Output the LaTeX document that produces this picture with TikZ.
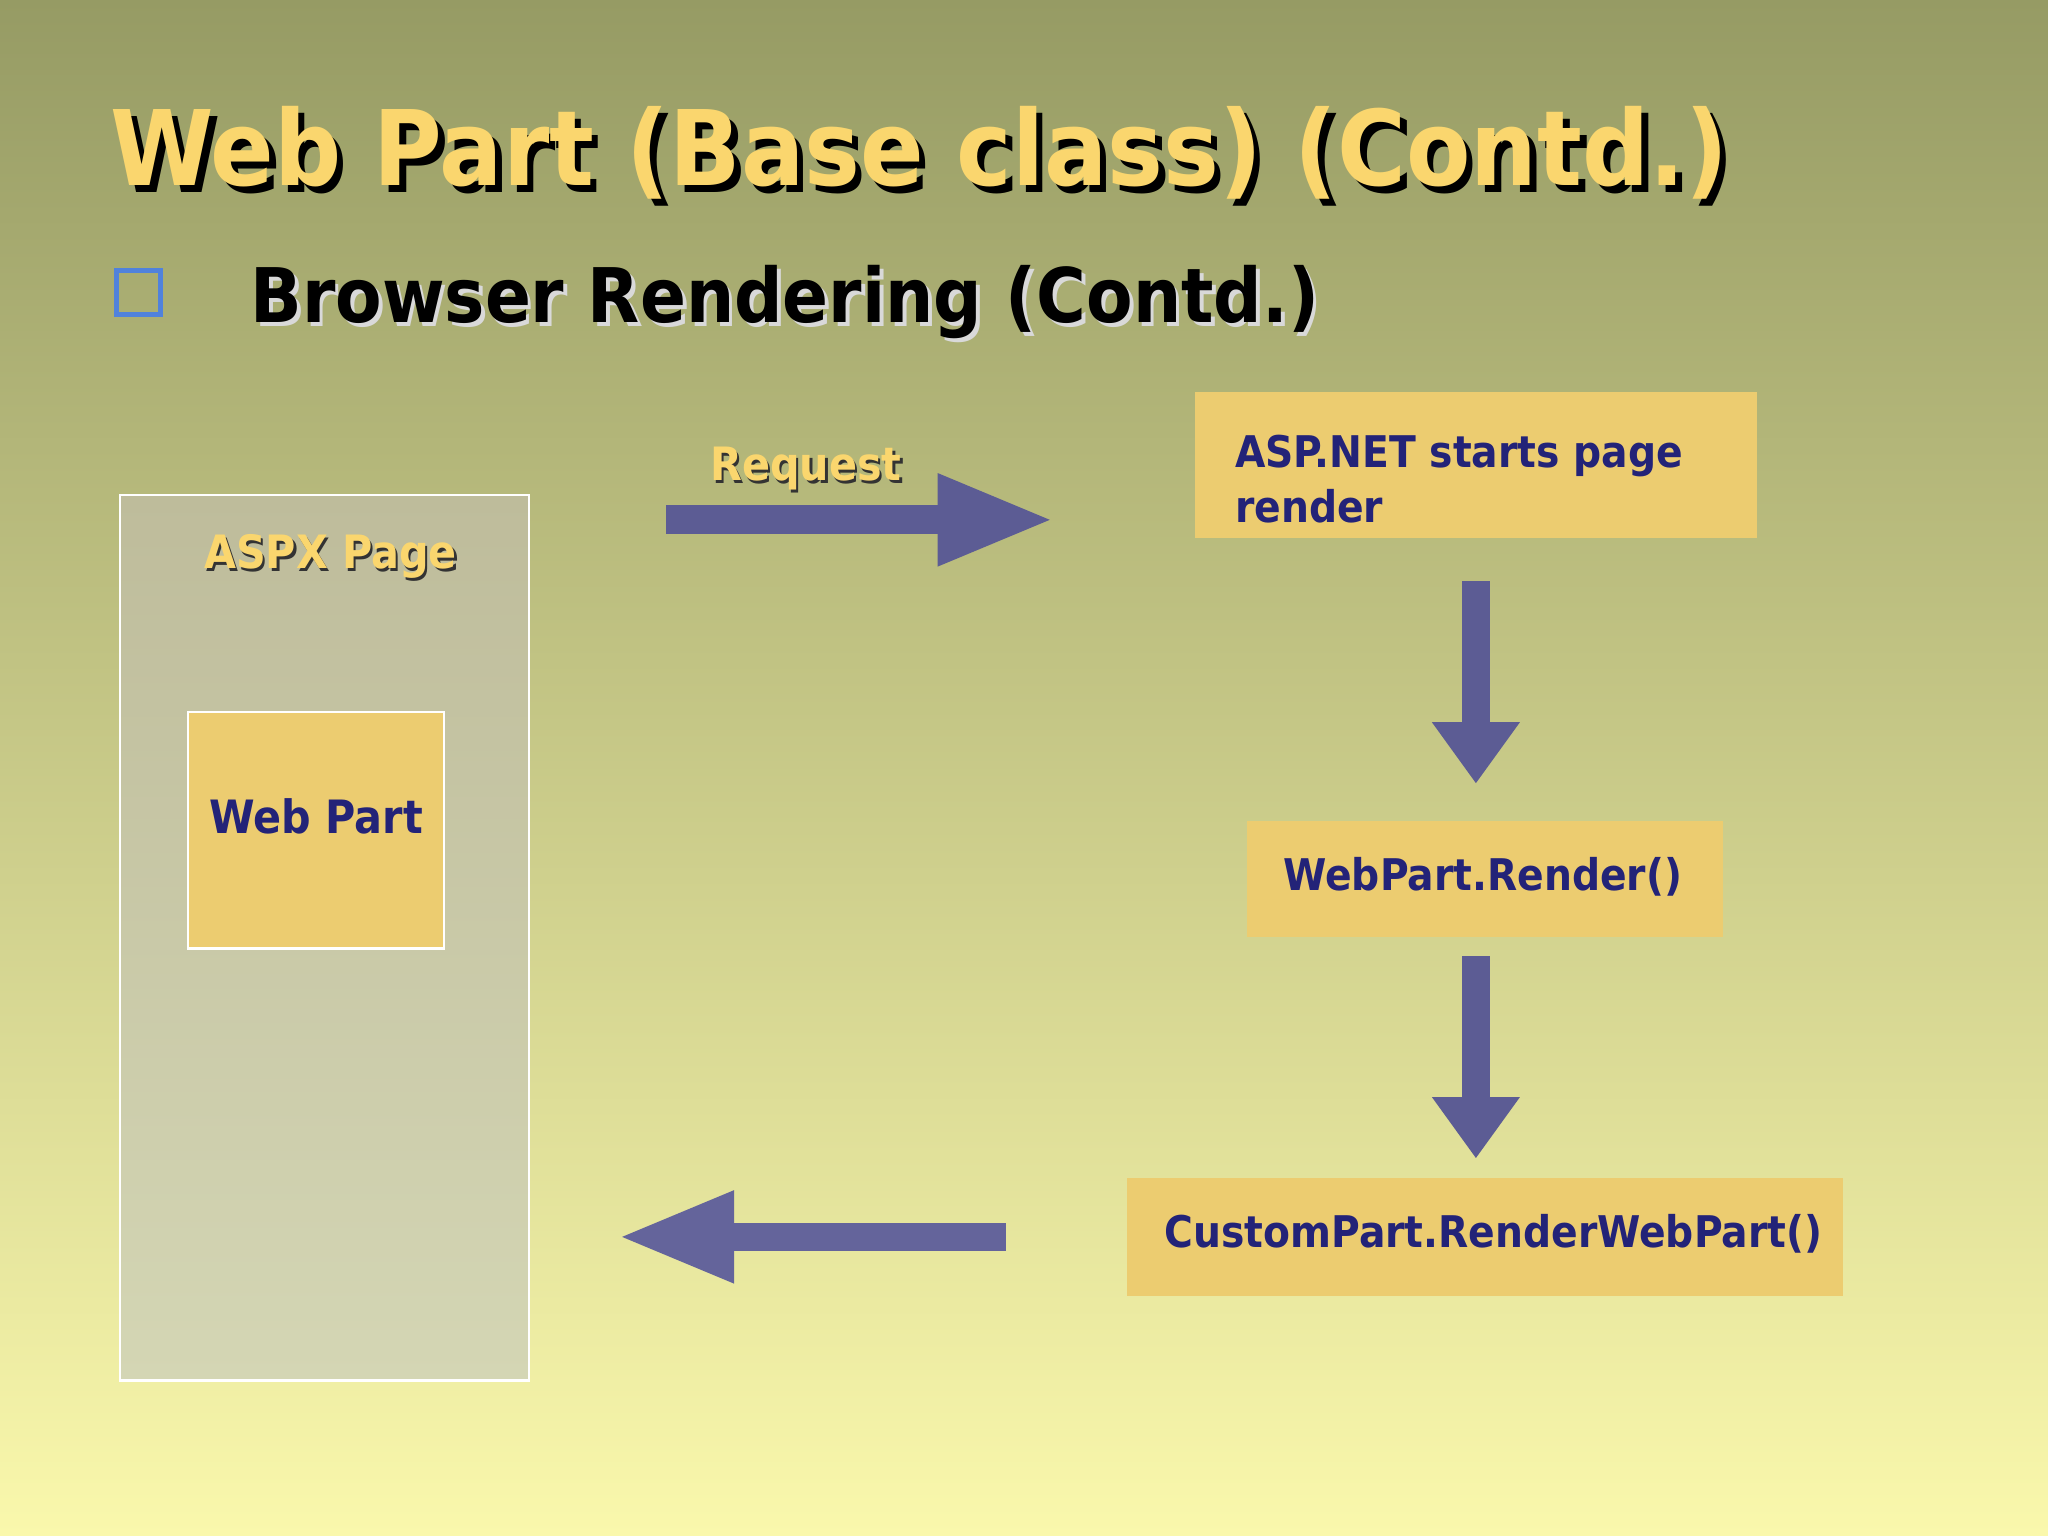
\documentclass[tikz,border=0pt]{standalone}
\usepackage{fontspec}
\setmainfont{DejaVu Sans}
\newfontfamily\cond{DejaVu Sans Condensed}
\usetikzlibrary{arrows.meta}
\definecolor{ttl}{RGB}{250,214,110}
\definecolor{boxf}{RGB}{236,204,112}
\definecolor{arr}{RGB}{92,92,148}
\definecolor{txt}{RGB}{35,35,120}
\begin{document}
\begin{tikzpicture}[x=0.01cm,y=-0.01cm,
  every node/.style={inner sep=0},
  box/.style={draw=none,fill=boxf,inner sep=0},
  btxt/.style={text=txt,font=\cond\bfseries\fontsize{9.5}{12}\selectfont,anchor=west,align=left},
  fat/.style={draw=arr,line width=0.22cm,-{Triangle[length=0.9cm,width=0.64cm]}},
  fatd/.style={draw=arr,line width=0.22cm,-{Triangle[length=0.47cm,width=0.64cm]}},
  lab/.style={font=\cond\bfseries\fontsize{10}{12}\selectfont}]
\shade[top color={rgb,255:red,150;green,155;blue,100},bottom color={rgb,255:red,250;green,248;blue,172}] (0,0) rectangle (1568,1176);
\useasboundingbox (0,0) rectangle (1568,1176);
% title
\node[anchor=west,text=black,font=\cond\bfseries\fontsize{22.7}{26}\selectfont] (ts) at (89,122) {Web Part (Base class) (Contd.)};
\node[anchor=west,text=ttl,font=\cond\bfseries\fontsize{22.7}{26}\selectfont] (t) at (84,117) {Web Part (Base class) (Contd.)};
\node[draw={rgb,255:red,80;green,130;blue,220},line width=0.04cm,minimum size=0.34cm] (bul) at (106,224) {};
\node[anchor=west,text=white!70!gray,font=\cond\bfseries\fontsize{16.4}{20}\selectfont] (ss) at (194,234) {Browser Rendering (Contd.)};
\node[anchor=west,text=black,font=\cond\bfseries\fontsize{16.4}{20}\selectfont] (s) at (191,231) {Browser Rendering (Contd.)};
% ASPX page
\shade[top color={rgb,255:red,190;green,188;blue,155},bottom color={rgb,255:red,212;green,214;blue,180},draw=white,line width=0.02cm] (92,379) rectangle (405,1057);
\node[text=black!80,lab] (als) at (255,428) {ASPX Page};
\node[text=ttl,lab] (al) at (253,426) {ASPX Page};
\draw[fill=boxf,draw=white,line width=0.02cm] (144,545) rectangle (340,726);
\node[btxt,font=\cond\bfseries\fontsize{10}{12}\selectfont] (wp) at (160,625) {Web Part};
% right boxes
\node[box,minimum width=4.30cm,minimum height=1.11cm] (asp) at (1130,356) {};
\node[btxt] at (945,367) {ASP.NET starts page\\render};
\node[box,minimum width=3.64cm,minimum height=0.89cm] (wr) at (1137,673) {};
\node[btxt] at (982,671) {WebPart.Render()};
\node[box,minimum width=5.48cm,minimum height=0.90cm] (cp) at (1137,947) {};
\node[btxt] at (891,945) {CustomPart.RenderWebPart()};
% arrows
\coordinate (r1) at (510,398); \coordinate (r2) at (808,398);
\draw[fat] (r1) -- (r2);
\node[text=black!80,lab] (rqs) at (619,361) {Request};
\node[text=ttl,lab] (rq) at (617,359) {Request};
\coordinate (d1) at (1130,445); \coordinate (d2) at (1130,600);
\draw[fatd] (d1) -- (d2);
\coordinate (e1) at (1130,732); \coordinate (e2) at (1130,887);
\draw[fatd] (e1) -- (e2);
\coordinate (l1) at (770,947); \coordinate (l2) at (472,947);
\draw[fat,draw={rgb,255:red,100;green,100;blue,155}] (l1) -- (l2);
\end{tikzpicture}
\end{document}
